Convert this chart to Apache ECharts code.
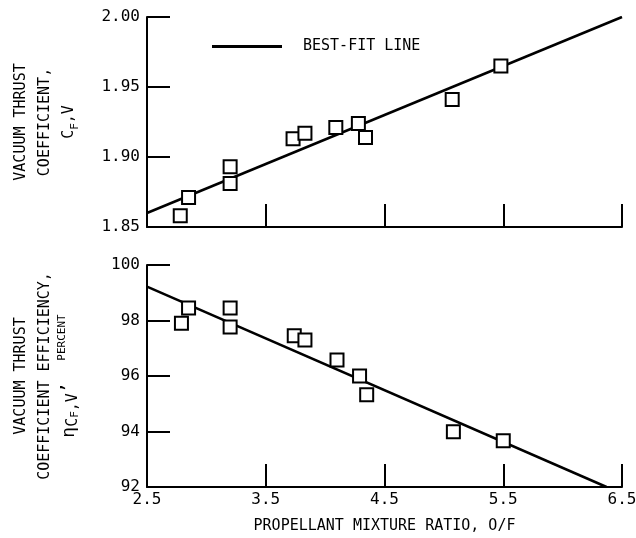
<!DOCTYPE html>
<html>
<head>
<meta charset="utf-8">
<script src="https://cdn.jsdelivr.net/npm/echarts@6/dist/echarts.min.js"></script>
<style>
  html, body { margin: 0; padding: 0; background: #fff; }
  #chart { width: 636px; height: 538px; }
</style>
</head>
<body>
<div id="chart"></div>
<script>
// mixture ratio O/F for each test point
var ratio = [2.78, 2.85, 3.20, 3.20, 3.73, 3.83, 4.09, 4.28, 4.34, 5.07, 5.48];
// vacuum thrust coefficient
var cfv = [1.858, 1.871, 1.893, 1.881, 1.913, 1.917, 1.921, 1.924, 1.914, 1.941, 1.965];
// efficiency, percent
var ratioEff = [2.79, 2.85, 3.20, 3.20, 3.74, 3.83, 4.10, 4.29, 4.35, 5.08, 5.50];
var eff = [97.9, 98.45, 98.45, 97.77, 97.45, 97.3, 96.58, 96.0, 95.32, 93.99, 93.67];
// best-fit line end points
var fitTopX = [2.5, 6.5];
var fitTopY = [1.86, 2.00];
var fitBotX = [2.5, 6.37];
var fitBotY = [99.22, 92.0];

function pairs(xs, ys) {
    return xs.map(function (x, i) { return [x, ys[i]]; });
}

var FONT = 'DejaVu Sans Mono';
var chart = echarts.init(document.getElementById('chart'));

var axisLine = {lineStyle: {color: '#000', width: 2}};
var axisTick = {inside: true, length: 23, lineStyle: {color: '#000', width: 2}};
var square = {
    type: 'scatter',
    symbol: 'rect',
    symbolSize: 13,
    itemStyle: {color: '#fff', borderColor: '#000', borderWidth: 2, opacity: 1},
    z: 3
};

option = {
    backgroundColor: '#fff',
    animation: false,
    textStyle: {fontFamily: FONT, color: '#000'},
    grid: [
        {left: 147, top: 17, width: 475, height: 210, outerBoundsMode: 'none', containLabel: false},
        {left: 147, top: 265, width: 475, height: 222, outerBoundsMode: 'none', containLabel: false}
    ],
    legend: {
        left: 207, top: 34,
        icon: 'rect',
        itemWidth: 70, itemHeight: 3,
        data: ['BEST-FIT LINE'],
        textStyle: {fontFamily: FONT, fontSize: 15, color: '#000', padding: [0, 0, 0, 16]}
    },
    xAxis: [
        {
            gridIndex: 0, type: 'value', min: 2.5, max: 6.5, interval: 1,
            axisLine: axisLine, axisTick: axisTick,
            axisLabel: {show: false}, splitLine: {show: false}
        },
        {
            gridIndex: 1, type: 'value', min: 2.5, max: 6.5, interval: 1,
            axisLine: axisLine, axisTick: axisTick,
            axisLabel: {fontFamily: FONT, fontSize: 16, color: '#000', margin: 5,
                formatter: function (v) { return v.toFixed(1); }},
            splitLine: {show: false},
            name: 'PROPELLANT MIXTURE RATIO, O/F',
            nameLocation: 'middle', nameGap: 32,
            nameTextStyle: {fontFamily: FONT, fontSize: 15, color: '#000'}
        }
    ],
    yAxis: [
        {
            gridIndex: 0, type: 'value', min: 1.85, max: 2.00, interval: 0.05,
            axisLine: {show: true, lineStyle: {color: '#000', width: 2}}, axisTick: axisTick,
            axisLabel: {fontFamily: FONT, fontSize: 16, color: '#000', margin: 7,
                formatter: function (v) { return v.toFixed(2); }},
            splitLine: {show: false},
            name: '{m|VACUUM THRUST}\n{m|COEFFICIENT,}\n{m|C}{s|F}{m|,V}',
            nameLocation: 'middle', nameRotate: 90, nameGap: 66,
            nameTextStyle: {
                fontFamily: FONT, color: '#000', lineHeight: 24,
                rich: {
                    m: {fontFamily: FONT, fontSize: 15, color: '#000', lineHeight: 24},
                    s: {fontFamily: FONT, fontSize: 11, color: '#000', lineHeight: 24, verticalAlign: 'bottom', padding: [6, 0, 0, 0]}
                }
            }
        },
        {
            gridIndex: 1, type: 'value', min: 92, max: 100, interval: 2,
            axisLine: {show: true, lineStyle: {color: '#000', width: 2}}, axisTick: axisTick,
            axisLabel: {fontFamily: FONT, fontSize: 16, color: '#000', margin: 7},
            splitLine: {show: false},
            name: '{m|VACUUM THRUST}\n{m|COEFFICIENT EFFICIENCY,}\n{e|\u03b7}{s|C}{ss|F}{s|,V}{e|\u2019}   {p|PERCENT}',
            nameLocation: 'middle', nameRotate: 90, nameGap: 66,
            nameTextStyle: {
                fontFamily: FONT, color: '#000', lineHeight: 24,
                rich: {
                    m: {fontFamily: FONT, fontSize: 15, color: '#000', lineHeight: 24},
                    e: {fontFamily: FONT, fontSize: 18, color: '#000', lineHeight: 24},
                    s: {fontFamily: FONT, fontSize: 15, color: '#000', lineHeight: 24, verticalAlign: 'bottom', padding: [3, 0, 0, 0]},
                    ss: {fontFamily: FONT, fontSize: 11, color: '#000', lineHeight: 24, verticalAlign: 'bottom', padding: [8, 0, 0, 0]},
                    p: {fontFamily: FONT, fontSize: 11, color: '#000', lineHeight: 24, verticalAlign: 'top', padding: [0, 0, 8, 0]}
                }
            }
        }
    ],
    series: [
        Object.assign({name: 'points-top', xAxisIndex: 0, yAxisIndex: 0, data: pairs(ratio, cfv)}, square),
        {
            name: 'BEST-FIT LINE', type: 'line', xAxisIndex: 0, yAxisIndex: 0,
            data: pairs(fitTopX, fitTopY), showSymbol: false, symbol: 'none',
            itemStyle: {color: '#000'},
            lineStyle: {color: '#000', width: 2.5}, z: 2
        },
        Object.assign({name: 'points-bottom', xAxisIndex: 1, yAxisIndex: 1, data: pairs(ratioEff, eff)}, square),
        {
            name: 'fit-bottom', type: 'line', xAxisIndex: 1, yAxisIndex: 1,
            data: pairs(fitBotX, fitBotY), showSymbol: false, symbol: 'none',
            itemStyle: {color: '#000'},
            lineStyle: {color: '#000', width: 2.5}, z: 2
        }
    ]
};

chart.setOption(option);
</script>
</body>
</html>
